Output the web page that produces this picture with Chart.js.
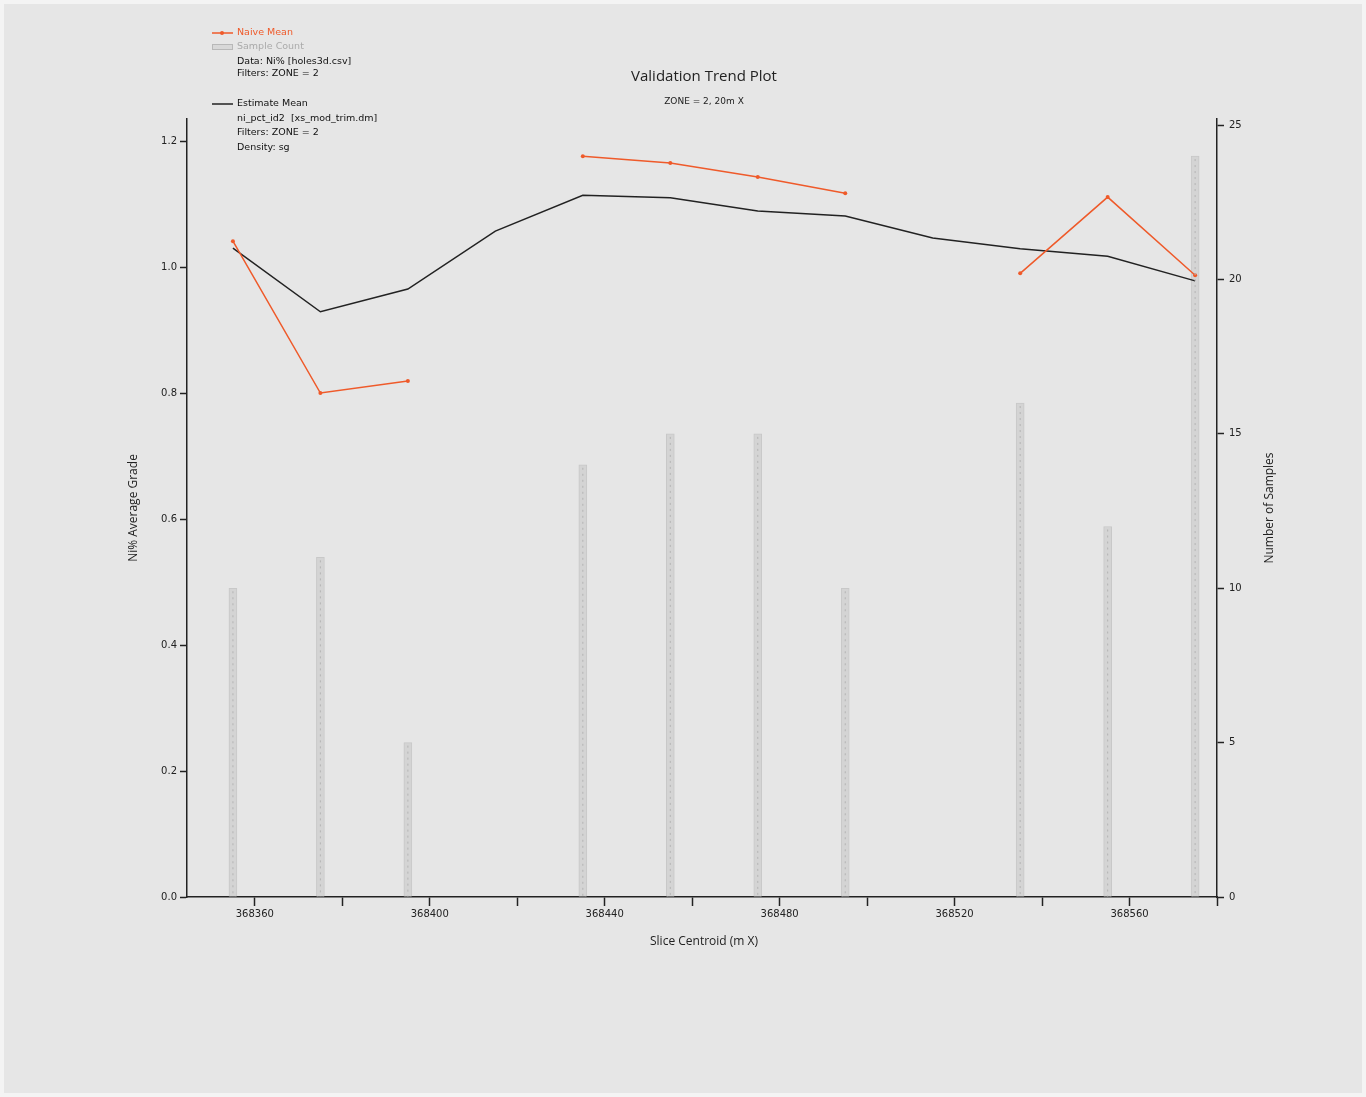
<!DOCTYPE html>
<html>
<head>
<meta charset="utf-8">
<title>Validation Trend Plot</title>
<script src="https://cdn.jsdelivr.net/npm/chart.js@4/dist/chart.umd.min.js"></script>
<style>
  body { margin: 0; background: #ffffff; }
  #wrap { width: 1366px; height: 1097px; }
</style>
</head>
<body>
<div id="wrap"><canvas id="trendChart" width="1366" height="1097"></canvas></div>
<script>
// slice centroids (m X)
const centroids = [368355, 368375, 368395, 368415, 368435, 368455, 368475, 368495, 368515, 368535, 368555, 368575];
const naiveMean = [1.041, 0.800, 0.819, null, 1.176, 1.165, 1.143, 1.117, null, 0.990, 1.111, 0.987];
const estimateMean = [1.030, 0.929, 0.965, 1.057, 1.114, 1.110, 1.089, 1.081, 1.046, 1.029, 1.017, 0.978];
const sampleCount = [10, 11, 5, 0, 14, 15, 15, 10, 0, 16, 12, 24];

const xTicks = [368360, 368380, 368400, 368420, 368440, 368460, 368480, 368500, 368520, 368540, 368560, 368580];
const xLabelTicks = [368360, 368400, 368440, 368480, 368520, 368560];
const gradeTicks = [0, 0.2, 0.4, 0.6, 0.8, 1.0, 1.2];
const countTicks = [0, 5, 10, 15, 20, 25];

const orange = '#ef5a2a';
const tickFont = { family: 'DejaVu Sans', size: 10 };

const toPoints = arr => arr.map((v, i) => ({ x: centroids[i], y: v }));

// background with thin light border
const backdrop = {
    id: 'backdrop',
    beforeDraw(chart) {
        const ctx = chart.ctx;
        ctx.save();
        ctx.fillStyle = '#f4f4f4';
        ctx.fillRect(0, 0, chart.width, chart.height);
        ctx.fillStyle = '#e6e6e6';
        ctx.fillRect(4, 4, chart.width - 8, chart.height - 8);
        ctx.restore();
    }
};

// dotted line down the middle of each sample bar
const barDots = {
    id: 'barDots',
    afterDatasetsDraw(chart) {
        const meta = chart.getDatasetMeta(0);
        const ctx = chart.ctx;
        ctx.save();
        ctx.strokeStyle = '#b4b4b4';
        ctx.lineWidth = 1;
        ctx.setLineDash([2, 4]);
        meta.data.forEach(bar => {
            if (bar.base - bar.y < 2) return;
            ctx.beginPath();
            ctx.moveTo(bar.x, bar.y + 3);
            ctx.lineTo(bar.x, bar.base);
            ctx.stroke();
        });
        ctx.restore();
    }
};

// titles, axis titles and the text legend
const annotations = {
    id: 'annotations',
    afterDraw(chart) {
        const ctx = chart.ctx;
        const area = chart.chartArea;
        ctx.save();
        ctx.fillStyle = '#222';
        ctx.textAlign = 'center';
        ctx.textBaseline = 'middle';
        ctx.font = '15px "Open Sans"';
        ctx.fillText('Validation Trend Plot', 704, 77);
        ctx.font = '9px "DejaVu Sans"';
        ctx.fillText('ZONE = 2, 20m X', 704, 102);

        ctx.font = '12px "Open Sans"';
        ctx.fillText('Slice Centroid (m X)', 704, 942);

        ctx.translate(134, (area.top + area.bottom) / 2);
        ctx.rotate(-Math.PI / 2);
        ctx.fillText('Ni% Average Grade', 0, 0);
        ctx.restore();

        ctx.save();
        ctx.fillStyle = '#222';
        ctx.textAlign = 'center';
        ctx.textBaseline = 'middle';
        ctx.font = '12px "Open Sans"';
        ctx.translate(1270, (area.top + area.bottom) / 2);
        ctx.rotate(-Math.PI / 2);
        ctx.fillText('Number of Samples', 0, 0);
        ctx.restore();

        // legend block
        ctx.save();
        ctx.textAlign = 'left';
        ctx.textBaseline = 'middle';
        ctx.font = '9.5px "DejaVu Sans"';
        ctx.strokeStyle = orange;
        ctx.lineWidth = 1.5;
        ctx.beginPath(); ctx.moveTo(212, 33); ctx.lineTo(233, 33); ctx.stroke();
        ctx.fillStyle = orange;
        ctx.beginPath(); ctx.arc(222, 33, 2, 0, Math.PI * 2); ctx.fill();
        ctx.fillText('Naive Mean', 237, 33);

        ctx.fillStyle = '#d8d8d8';
        ctx.strokeStyle = '#b8b8b8';
        ctx.lineWidth = 1;
        ctx.fillRect(212, 44, 21, 6);
        ctx.strokeRect(212.5, 44.5, 20, 5);
        ctx.fillStyle = '#aaaaaa';
        ctx.fillText('Sample Count', 237, 47);

        ctx.fillStyle = '#111';
        ctx.fillText('Data: Ni% [holes3d.csv]', 237, 62);
        ctx.fillText('Filters: ZONE = 2', 237, 74);

        ctx.strokeStyle = '#222';
        ctx.lineWidth = 1.5;
        ctx.beginPath(); ctx.moveTo(212, 104); ctx.lineTo(233, 104); ctx.stroke();
        ctx.fillText('Estimate Mean', 237, 104);
        ctx.fillText('ni_pct_id2  [xs_mod_trim.dm]', 237, 119);
        ctx.fillText('Filters: ZONE = 2', 237, 133);
        ctx.fillText('Density: sg', 237, 148);
        ctx.restore();
    }
};

new Chart(document.getElementById('trendChart'), {
    type: 'bar',
    data: {
        datasets: [
            {
                type: 'bar',
                label: 'Sample Count',
                data: toPoints(sampleCount),
                yAxisID: 'y1',
                backgroundColor: '#d4d4d4',
                borderColor: '#c8c8c8',
                borderWidth: 1,
                barThickness: 8,
                order: 3
            },
            {
                type: 'line',
                label: 'Naive Mean',
                data: toPoints(naiveMean),
                yAxisID: 'y',
                borderColor: orange,
                backgroundColor: orange,
                borderWidth: 1.5,
                pointRadius: 2,
                pointBorderWidth: 0,
                spanGaps: false,
                tension: 0,
                order: 1
            },
            {
                type: 'line',
                label: 'Estimate Mean',
                data: toPoints(estimateMean),
                yAxisID: 'y',
                borderColor: '#222222',
                borderWidth: 1.5,
                pointRadius: 0,
                tension: 0,
                order: 2
            }
        ]
    },
    options: {
        responsive: false,
        animation: false,
        layout: { padding: { top: 119, left: 0, right: 0, bottom: 0 } },
        plugins: {
            legend: { display: false },
            tooltip: { enabled: false }
        },
        scales: {
            x: {
                type: 'linear',
                min: 368344.5,
                max: 368580,
                offset: false,
                grid: { offset: false, drawOnChartArea: false, color: '#222', tickLength: 9, tickWidth: 1.5 },
                border: { color: '#222', width: 1.5 },
                afterBuildTicks: axis => { axis.ticks = xTicks.map(v => ({ value: v })); },
                afterFit: axis => { axis.height = 200; },
                ticks: {
                    autoSkip: false,
                    maxRotation: 0,
                    color: '#222',
                    font: tickFont,
                    padding: 2,
                    callback: v => xLabelTicks.includes(v) ? String(v) : ''
                }
            },
            y: {
                position: 'left',
                min: 0,
                max: 1.235,
                grid: { drawOnChartArea: false, color: '#222', tickLength: 7, tickWidth: 1.5 },
                border: { color: '#222', width: 1.5 },
                afterBuildTicks: axis => { axis.ticks = gradeTicks.map(v => ({ value: v })); },
                afterFit: axis => { axis.width = 187; },
                ticks: {
                    color: '#222',
                    font: tickFont,
                    padding: 3,
                    callback: v => v.toFixed(1)
                }
            },
            y1: {
                position: 'right',
                min: 0,
                max: 25.2,
                grid: { drawOnChartArea: false, color: '#222', tickLength: 7, tickWidth: 1.5 },
                border: { color: '#222', width: 1.5 },
                afterBuildTicks: axis => { axis.ticks = countTicks.map(v => ({ value: v })); },
                afterFit: axis => { axis.width = 149; },
                ticks: {
                    color: '#222',
                    font: tickFont,
                    padding: 5,
                    callback: v => String(v)
                }
            }
        }
    },
    plugins: [backdrop, barDots, annotations]
});
</script>
</body>
</html>
